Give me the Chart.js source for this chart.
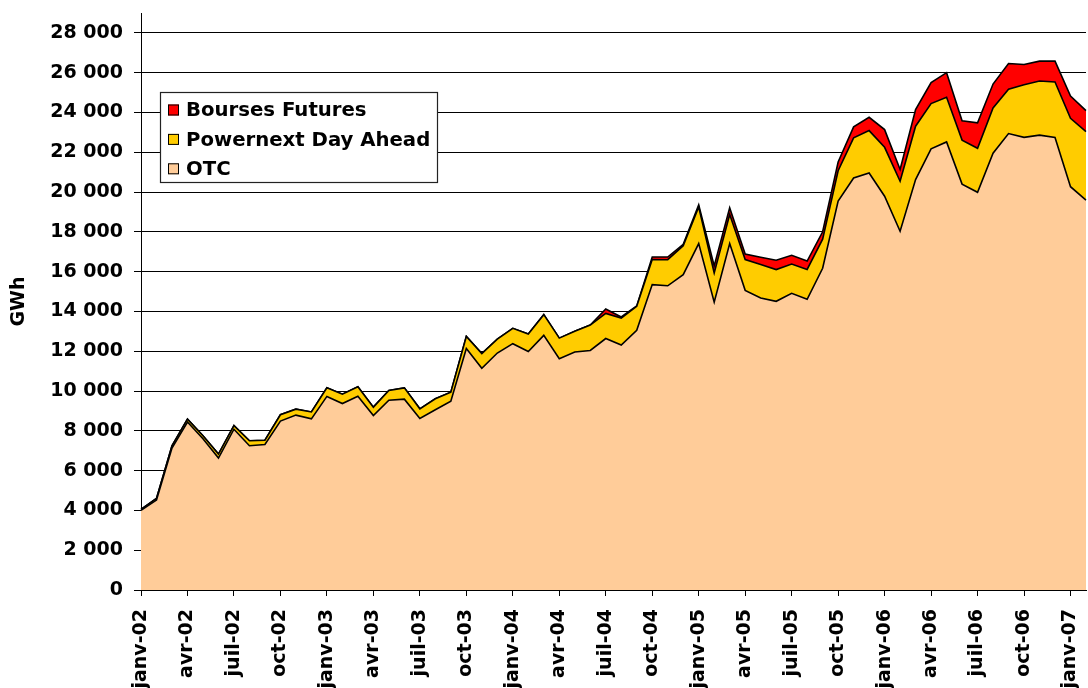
<!DOCTYPE html>
<html>
<head>
<meta charset="utf-8">
<script src="https://cdn.jsdelivr.net/npm/chart.js@4/dist/chart.umd.min.js"></script>
<style>
  html, body { margin: 0; padding: 0; background: #fff; overflow: hidden; }
  #chart { display: block; }
</style>
</head>
<body>
<canvas id="chart" width="1088" height="688"></canvas>
<script>
// months janv-02 .. févr-07
const monthNames = ["janv", "févr", "mars", "avr", "mai", "juin", "juil", "août", "sept", "oct", "nov", "déc"]
const years = ["02", "03", "04", "05", "06", "07"]
const monthCount = 62

const otc = [4000, 4520, 7130, 8440, 7600, 6630, 8080, 7250, 7310, 8490, 8790, 8600,
  9730, 9370, 9740, 8770, 9540, 9590, 8620, 9060, 9490, 12140, 11140, 11910,
  12380, 11990, 12800, 11620, 11960, 12040, 12640, 12310, 13050, 15350, 15290, 15850,
  17410, 14470, 17410, 15060, 14680, 14510, 14910, 14610, 16170, 19550, 20710, 20960,
  19790, 18030, 20630, 22170, 22520, 20400, 19990, 21950, 22940, 22750, 22860, 22740,
  20270, 19600]
const powernext = [50, 80, 115, 150, 150, 200, 185, 250, 220, 320, 300, 350,
  435, 470, 470, 420, 485, 570, 485, 550, 455, 605, 740, 700,
  770, 875, 1040, 1040, 1040, 1275, 1260, 1360, 1205, 1255, 1310, 1455,
  1840, 1460, 1460, 1545, 1675, 1595, 1475, 1500, 1460, 1520, 2015, 2130,
  2460, 2515, 2680, 2280, 2245, 2210, 2210, 2280, 2230, 2640, 2720, 2790,
  3440, 3440]
const boursesFutures = [0, 0, 0, 0, 0, 0, 0, 0, 0, 0, 0, 0,
  0, 0, 0, 0, 0, 0, 0, 0, 0, 0, 0, 0,
  0, 0, 0, 0, 0, 0, 220, 50, 20, 130, 135, 70,
  110, 360, 335, 285, 370, 470, 435, 420, 375, 440, 555, 670,
  890, 590, 840, 1050, 1235, 970, 1280, 1200, 1290, 1020, 1000, 1050,
  1120, 1050]

const yTicks = [0, 2000, 4000, 6000, 8000, 10000, 12000, 14000, 16000, 18000, 20000, 22000, 24000, 26000, 28000]

let labels = []
for(let i = 0; i < monthCount; i++){
    labels.push(monthNames[i % 12] + "-" + years[Math.floor(i / 12)])
}

const FONT = "DejaVu Sans"
Chart.defaults.font.family = FONT
Chart.defaults.font.size = 19
Chart.defaults.font.weight = "bold"
Chart.defaults.color = "#000"

// legend box drawn inside the plot, like the original
const boxLegend = {
    id: "boxLegend",
    afterDraw(chart){
        const ctx = chart.ctx
        const items = [
            {text: "Bourses Futures", color: "#ff0000"},
            {text: "Powernext Day Ahead", color: "#ffcc00"},
            {text: "OTC", color: "#ffcc99"}
        ]
        ctx.save()
        ctx.fillStyle = "#fff"
        ctx.fillRect(160, 92, 277, 90)
        ctx.strokeStyle = "#222"
        ctx.lineWidth = 1.2
        ctx.strokeRect(160.5, 92.5, 277, 90)
        ctx.font = "bold 19.7px " + FONT
        ctx.textBaseline = "middle"
        ctx.textAlign = "left"
        items.forEach((item, i) => {
            let cy = 110 + i * 29.4
            ctx.fillStyle = item.color
            ctx.fillRect(168, cy - 5.5, 11, 11)
            ctx.strokeStyle = "#000"
            ctx.lineWidth = 1
            ctx.strokeRect(168.5, cy - 5, 10, 10)
            ctx.fillStyle = "#000"
            ctx.fillText(item.text, 186, cy + 1)
        })
        ctx.restore()
    }
}

const areaStyle = {
    borderColor: "#000",
    borderWidth: 1.6,
    pointRadius: 0,
    tension: 0
}

new Chart(document.getElementById("chart"), {
    type: "line",
    data: {
        labels: labels,
        datasets: [
            {label: "OTC", data: otc, backgroundColor: "#ffcc99", fill: "origin", ...areaStyle},
            {label: "Powernext Day Ahead", data: powernext, backgroundColor: "#ffcc00", fill: "-1", ...areaStyle},
            {label: "Bourses Futures", data: boursesFutures, backgroundColor: "#ff0000", fill: "-1", ...areaStyle}
        ]
    },
    options: {
        responsive: false,
        animation: false,
        devicePixelRatio: 1,
        layout: {padding: {top: 13, right: 2, left: 0, bottom: 0}},
        plugins: {
            legend: {display: false},
            tooltip: {enabled: false}
        },
        scales: {
            x: {
                offset: false,
                grid: {display: true, drawOnChartArea: false, drawTicks: true, tickLength: 6, color: "#000"},
                border: {color: "#000", width: 1},
                ticks: {autoSkip: false, maxRotation: 90, minRotation: 90, padding: 13, font: {size: 19, weight: "bold"}},
                afterBuildTicks: scale => {
                    scale.ticks = scale.ticks.filter((t, i) => i % 3 === 0)
                },
                afterFit: scale => {
                    scale.height = 98
                    scale.paddingLeft = 0
                    scale.paddingRight = 0
                }
            },
            y: {
                stacked: true,
                min: 0,
                max: 29000,
                grid: {color: "#000", lineWidth: 1, tickLength: 7, drawTicks: true},
                border: {color: "#000", width: 1},
                afterBuildTicks: scale => {
                    scale.ticks = yTicks.map(v => ({value: v}))
                },
                ticks: {
                    padding: 11,
                    font: {size: 19, weight: "bold"},
                    callback: v => v.toLocaleString("fr-FR").replace(/\s/g, " ")
                },
                title: {display: true, text: "GWh", font: {size: 19, weight: "bold"}, padding: {top: 8, bottom: 0}},
                afterFit: scale => {
                    scale.width = 141
                    scale.paddingTop = 0
                    scale.paddingBottom = 0
                }
            }
        }
    },
    plugins: [boxLegend]
})
</script>
</body>
</html>
